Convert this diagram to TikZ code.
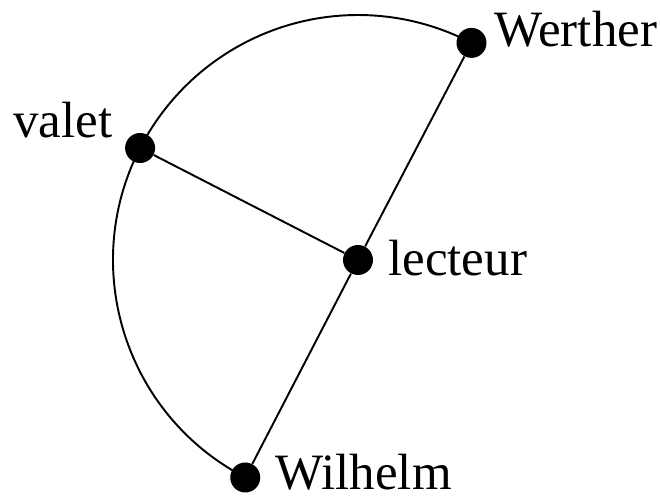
\documentclass[tikz,border=0pt]{standalone}
\usepackage{fontspec}
\setmainfont{Liberation Serif}
\usetikzlibrary{calc}

\begin{document}
\begin{tikzpicture}[x=0.02cm, y=0.02cm,
        dot/.style={circle, fill, inner sep=0pt, minimum size=0.6cm},
        person/.style={anchor=base west, inner sep=0pt, font=\fontsize{29}{33}\selectfont},
        link/.style={black, line width=1.1pt}]
    \useasboundingbox (0,0) rectangle (660,499);

    \node[dot] (lecteur) at (358,239) {};
    \node[dot] (werther) at ($(lecteur)+(62.4:245)$) {};
    \node[dot] (valet) at ($(lecteur)+(152.8:245)$) {};
    \node[dot] (wilhelm) at ($(lecteur)+(242.6:245)$) {};

    \node[person] (werther-lbl) at (494,452) {Werther};
    \node[person] (valet-lbl) at (13,361) {valet};
    \node[person] (lecteur-lbl) at (388,223) {lecteur};
    \node[person] (wilhelm-lbl) at (275,9) {Wilhelm};

    \draw[link] (werther.center) arc[start angle=62.4, end angle=152.8, radius=4.9cm];
    \draw[link] (valet.center) arc[start angle=152.8, end angle=242.6, radius=4.9cm];
    \draw[link] (valet) -- (lecteur);
    \draw[link] (werther) -- (lecteur) -- (wilhelm);
\end{tikzpicture}
\end{document}
